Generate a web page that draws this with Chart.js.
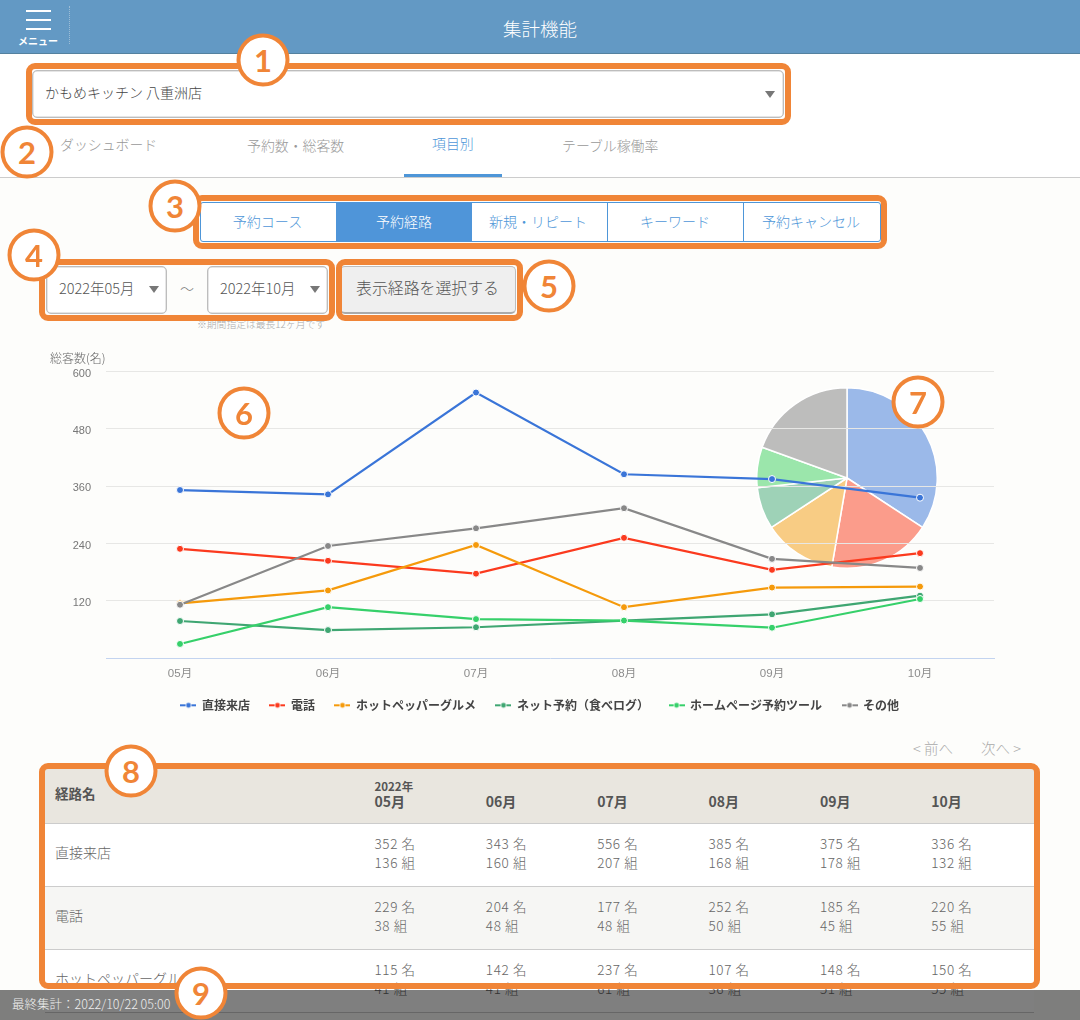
<!DOCTYPE html>
<html lang="ja">
<head>
<meta charset="utf-8">
<title>集計機能</title>
<script src="https://cdn.jsdelivr.net/npm/chart.js@4"></script>
<style>
html,body{margin:0;padding:0;width:1080px;height:1020px;overflow:hidden;background:#fdfdfb;font-family:"Noto Sans CJK JP","Noto Sans",sans-serif;font-weight:300;color:#555}
.a{position:absolute;box-sizing:border-box;white-space:nowrap}
.t{position:absolute;white-space:nowrap;line-height:1;transform:translateY(-50%)}
.c{position:absolute;white-space:nowrap;line-height:1;transform:translate(-50%,-50%)}
.box{position:absolute;box-sizing:border-box;border:6px solid #f08537;border-radius:9px;z-index:20;background:transparent}
.sel{position:absolute;box-sizing:border-box;background:#fff;border:1px solid #bdbdbd;border-radius:5px;box-shadow:inset 0 0 0 .5px #ccc}
.arrow{position:absolute;width:0;height:0;border-left:5.5px solid transparent;border-right:5.5px solid transparent;border-top:7px solid #777}
.num{position:absolute;box-sizing:border-box;width:53px;height:53px;border:4.5px solid #f08537;border-radius:50%;background:#fff;color:#f08537;font:700 31px/44px Lato,"Open Sans",sans-serif;text-align:center;transform:translate(-50%,-50%);z-index:40}
canvas{position:absolute;display:block}
</style>
</head>
<body>
<div class="a" style="left:0;top:0;width:1080px;height:178px;background:#fff;border-bottom:1px solid #ccc"></div>
<div class="a" style="left:0;top:0;width:1080px;height:54px;background:#6399c4;border-bottom:1px solid #54819f"></div>
<div class="a" style="left:26px;top:10px;width:25px;height:2px;background:#fff"></div>
<div class="a" style="left:26px;top:19px;width:25px;height:2px;background:#fff"></div>
<div class="a" style="left:26px;top:28px;width:25px;height:2px;background:#fff"></div>
<div class="c" style="left:38px;top:41px;font-size:10px;font-weight:700;color:#fff">メニュー</div>
<div class="a" style="left:69px;top:6px;height:38px;border-left:1px dotted #9dbdd6"></div>
<div class="c" style="left:540px;top:28px;font-size:18.5px;color:#fff">集計機能</div>

<div class="sel" style="left:32px;top:70px;width:752px;height:48px"></div>
<div class="t" style="left:45px;top:92px;font-size:14px;color:#444">かもめキッチン 八重洲店</div>
<div class="arrow" style="left:765px;top:91px"></div>

<div class="t" style="left:60px;top:145px;font-size:13.9px;color:#999">ダッシュボード</div>
<div class="t" style="left:247px;top:146px;font-size:13.9px;color:#999">予約数・総客数</div>
<div class="t" style="left:432px;top:144px;font-size:13.9px;color:#4e96d8">項目別</div>
<div class="t" style="left:562px;top:146px;font-size:13.9px;color:#999">テーブル稼働率</div>
<div class="a" style="left:404px;top:174px;width:98px;height:3px;background:#4e96d8"></div>

<div class="a" style="left:200px;top:202px;width:681px;height:40px;background:#fff;border:1px solid #4e96d8;border-radius:3px"></div>
<div class="a" style="left:336px;top:202px;width:136px;height:40px;background:#4f95d9"></div>
<div class="a" style="left:607px;top:202px;width:1px;height:40px;background:#4e96d8"></div>
<div class="a" style="left:743px;top:202px;width:1px;height:40px;background:#4e96d8"></div>
<div class="c" style="left:267.5px;top:221px;font-size:14px;color:#4e96d8">予約コース</div>
<div class="c" style="left:404px;top:221px;font-size:14px;color:#fff">予約経路</div>
<div class="c" style="left:538px;top:221px;font-size:14px;color:#4e96d8">新規・リピート</div>
<div class="c" style="left:675px;top:221px;font-size:14px;color:#4e96d8">キーワード</div>
<div class="c" style="left:811px;top:221px;font-size:14px;color:#4e96d8">予約キャンセル</div>

<div class="sel" style="left:46px;top:266px;width:121px;height:48px"></div>
<div class="t" style="left:59px;top:288px;font-size:14.5px;color:#555">2022年05月</div>
<div class="arrow" style="left:149px;top:286px"></div>
<div class="c" style="left:187px;top:288px;font-size:14px;color:#777">〜</div>
<div class="sel" style="left:207px;top:266px;width:121px;height:48px"></div>
<div class="t" style="left:220px;top:288px;font-size:14.5px;color:#555">2022年10月</div>
<div class="arrow" style="left:310px;top:286px"></div>
<div class="a" style="left:340px;top:266px;width:176px;height:48px;background:#efefef;border:1px solid #bdbdbd;border-bottom:2.5px solid #aaa;border-radius:5px"></div>
<div class="c" style="left:427.5px;top:288px;font-size:15.9px;color:#555">表示経路を選択する</div>
<div class="t" style="left:197px;top:325px;font-size:9.8px;color:#aaa">※期間指定は最長12ヶ月です</div>

<div class="t" style="left:50px;top:358px;font-size:12px;color:#666;z-index:3">総客数(名)</div>

<canvas id="pie" width="182" height="182" style="left:756px;top:387px;z-index:1"></canvas>
<canvas id="line" width="1080" height="400" style="left:0;top:340px;z-index:2"></canvas>

<div class="t" style="left:913px;top:748px;font-size:14.5px;color:#aaa">&lt; 前へ</div>
<div class="t" style="left:981px;top:748px;font-size:14.5px;color:#aaa">次へ &gt;</div>

<div id="table" class="a" style="left:45px;top:769px;width:989px;height:244px;z-index:5;overflow:hidden;border-bottom:1px solid #ccc"></div>

<div class="a" style="left:0;top:990px;width:1080px;height:30px;background:rgba(0,0,0,.5);z-index:30"></div>
<div class="t" style="left:12px;top:1003.5px;font-size:12.5px;color:#eee;z-index:31">最終集計：2022/10/22 05:00</div>

<div class="box" style="left:26px;top:63px;width:765px;height:62px"></div>
<div class="box" style="left:193px;top:195px;width:694px;height:54px"></div>
<div class="box" style="left:39px;top:259px;width:296px;height:62px"></div>
<div class="box" style="left:336px;top:259px;width:187px;height:62px"></div>
<div class="box" style="left:39px;top:763px;width:1001px;height:226px"></div>

<div class="num" style="left:263px;top:60px">1</div>
<div class="num" style="left:27px;top:152px">2</div>
<div class="num" style="left:175px;top:206px">3</div>
<div class="num" style="left:34px;top:255px">4</div>
<div class="num" style="left:549px;top:286px">5</div>
<div class="num" style="left:244px;top:413px">6</div>
<div class="num" style="left:918px;top:402px">7</div>
<div class="num" style="left:131px;top:771px">8</div>
<div class="num" style="left:201px;top:993px">9</div>

<script>
const months = ["05月","06月","07月","08月","09月","10月"];
const seriesNames = ["直接来店","電話","ホットペッパーグルメ","ネット予約（食べログ）","ホームページ予約ツール","その他"];
const seriesColors = ["#3a75d8","#fb3a1e","#f59a0b","#3fa672","#36d06a","#888888"];
const direct = [352,343,556,385,375,336];
const phone = [229,204,177,252,185,220];
const hotpepper = [115,142,237,107,148,150];
const netYoyaku = [78,59,65,79,92,131];
const homepage = [30,107,82,79,64,124];
const others = [112,235,272,314,208,189];
const pieValues = [2347,1267,899,512,498,1336];
const yTicks = [120,240,360,480,600];

const rowNames = ["直接来店","電話","ホットペッパーグルメ"];
const guestRows = [direct,phone,hotpepper];
const groupsDirect = [136,160,207,168,178,132];
const groupsPhone = [38,48,48,50,45,55];
const groupsHot = [41,41,61,36,51,55];
const groupRows = [groupsDirect,groupsPhone,groupsHot];

/* table */
const tbl = document.getElementById('table');
function add(html,style){const d=document.createElement('div');d.className=style.cls||'t';d.innerHTML=html;Object.assign(d.style,style.css);tbl.appendChild(d);}
add('',{cls:'a',css:{left:'0',top:'0',width:'989px',height:'55px',background:'#e9e6df',borderBottom:'1px solid #ccc'}});
add('',{cls:'a',css:{left:'0',top:'55px',width:'989px',height:'63px',background:'#fff',borderBottom:'1px solid #ccc'}});
add('',{cls:'a',css:{left:'0',top:'118px',width:'989px',height:'63px',background:'#f6f6f4',borderBottom:'1px solid #ccc'}});
add('',{cls:'a',css:{left:'0',top:'181px',width:'989px',height:'63px',background:'#fff'}});
add('経路名',{css:{left:'10px',top:'25px',fontSize:'13.5px',fontWeight:'700',color:'#555'}});
add('2022年',{css:{left:'329.5px',top:'17.5px',fontSize:'11.5px',fontWeight:'700',color:'#555'}});
months.forEach((m,i)=>{
  const x=329.5+i*111.35;
  add(m,{css:{left:x+'px',top:'31.5px',fontSize:'14px',fontWeight:'700',color:'#555'}});
  guestRows.forEach((r,j)=>{
    const y=75+j*63;
    add(r[i]+' 名',{css:{left:x+'px',top:y+'px',fontSize:'13.5px',color:'#666',letterSpacing:'.6px'}});
    add(groupRows[j][i]+' 組',{css:{left:x+'px',top:(y+19)+'px',fontSize:'13.5px',color:'#666',letterSpacing:'.6px'}});
  });
});
rowNames.forEach((n,j)=>add(n,{css:{left:'10px',top:(83+j*63)+'px',fontSize:'14px',color:'#666'}}));

/* legend markers */
function marker(color){
  const c=document.createElement('canvas');c.width=16;c.height=8;
  const g=c.getContext('2d');
  g.fillStyle=color;
  g.fillRect(0,3,5,2);g.fillRect(11,3,5,2);
  g.beginPath();g.arc(8,4,2.4,0,Math.PI*2);g.fill();
  return c;
}

const seriesValues=[direct,phone,hotpepper,netYoyaku,homepage,others];
const FONT='"Liberation Sans","Noto Sans CJK JP",sans-serif';
new Chart(document.getElementById('line'),{
  type:'line',
  data:{labels:months,datasets:seriesNames.map((n,i)=>({
    label:n,data:seriesValues[i],borderColor:seriesColors[i],backgroundColor:seriesColors[i],
    borderWidth:2.2,pointRadius:3.5,pointBackgroundColor:seriesColors[i],pointBorderColor:'#fff',pointBorderWidth:1,
    tension:0,order:6-i,yAxisID:'y'
  }))},
  options:{
    responsive:false,animation:false,devicePixelRatio:1,
    layout:{padding:{top:31.5,right:0,bottom:18.7,left:0}},
    plugins:{
      tooltip:{enabled:false},
      legend:{position:'bottom',align:'center',labels:{
        usePointStyle:true,pointStyleWidth:15,padding:20,color:'#444',
        font:{family:'"Noto Sans CJK JP",sans-serif',size:12,weight:'bold'},
        generateLabels:()=>seriesNames.map((n,i)=>({text:n,pointStyle:marker(seriesColors[i]),fontColor:'#444',hidden:false,lineWidth:0,strokeStyle:'transparent',fillStyle:seriesColors[i],datasetIndex:i}))
      }}
    },
    scales:{
      x:{offset:true,grid:{display:false,drawTicks:false},border:{color:'#c3d4f0',width:1},
         ticks:{color:'#8c8c8c',padding:9,maxRotation:0,font:{family:FONT,size:11.5}},
         afterFit:s=>{s.height=21}},
      y:{min:0,max:600,grid:{drawTicks:false,color:c=>c.tick.value===0?'rgba(0,0,0,0)':'#e7e7e5'},border:{display:false},
         ticks:{stepSize:120,color:'#777',padding:15,labelOffset:2,font:{family:FONT,size:11},callback:v=>yTicks.includes(v)?String(v):''},
         afterFit:s=>{s.width=106}},
      yGutter:{position:'right',min:0,max:600,grid:{display:false,drawTicks:false},border:{display:false},
         ticks:{display:false},afterFit:s=>{s.width=86}}
    }
  }
});
</script>
<script>
const pieColors=["rgba(57,117,216,.5)","rgba(250,60,28,.5)","rgba(243,155,13,.5)","rgba(64,168,115,.5)","rgba(58,208,92,.5)","rgba(125,125,125,.5)"];
new Chart(document.getElementById('pie'),{
  type:'pie',
  data:{labels:seriesNames,datasets:[{data:pieValues,backgroundColor:pieColors,borderColor:'#ffffff',borderWidth:1.5}]},
  options:{responsive:false,animation:false,devicePixelRatio:1,plugins:{legend:{display:false},tooltip:{enabled:false}},layout:{padding:0}}
});
</script>
</body>
</html>
